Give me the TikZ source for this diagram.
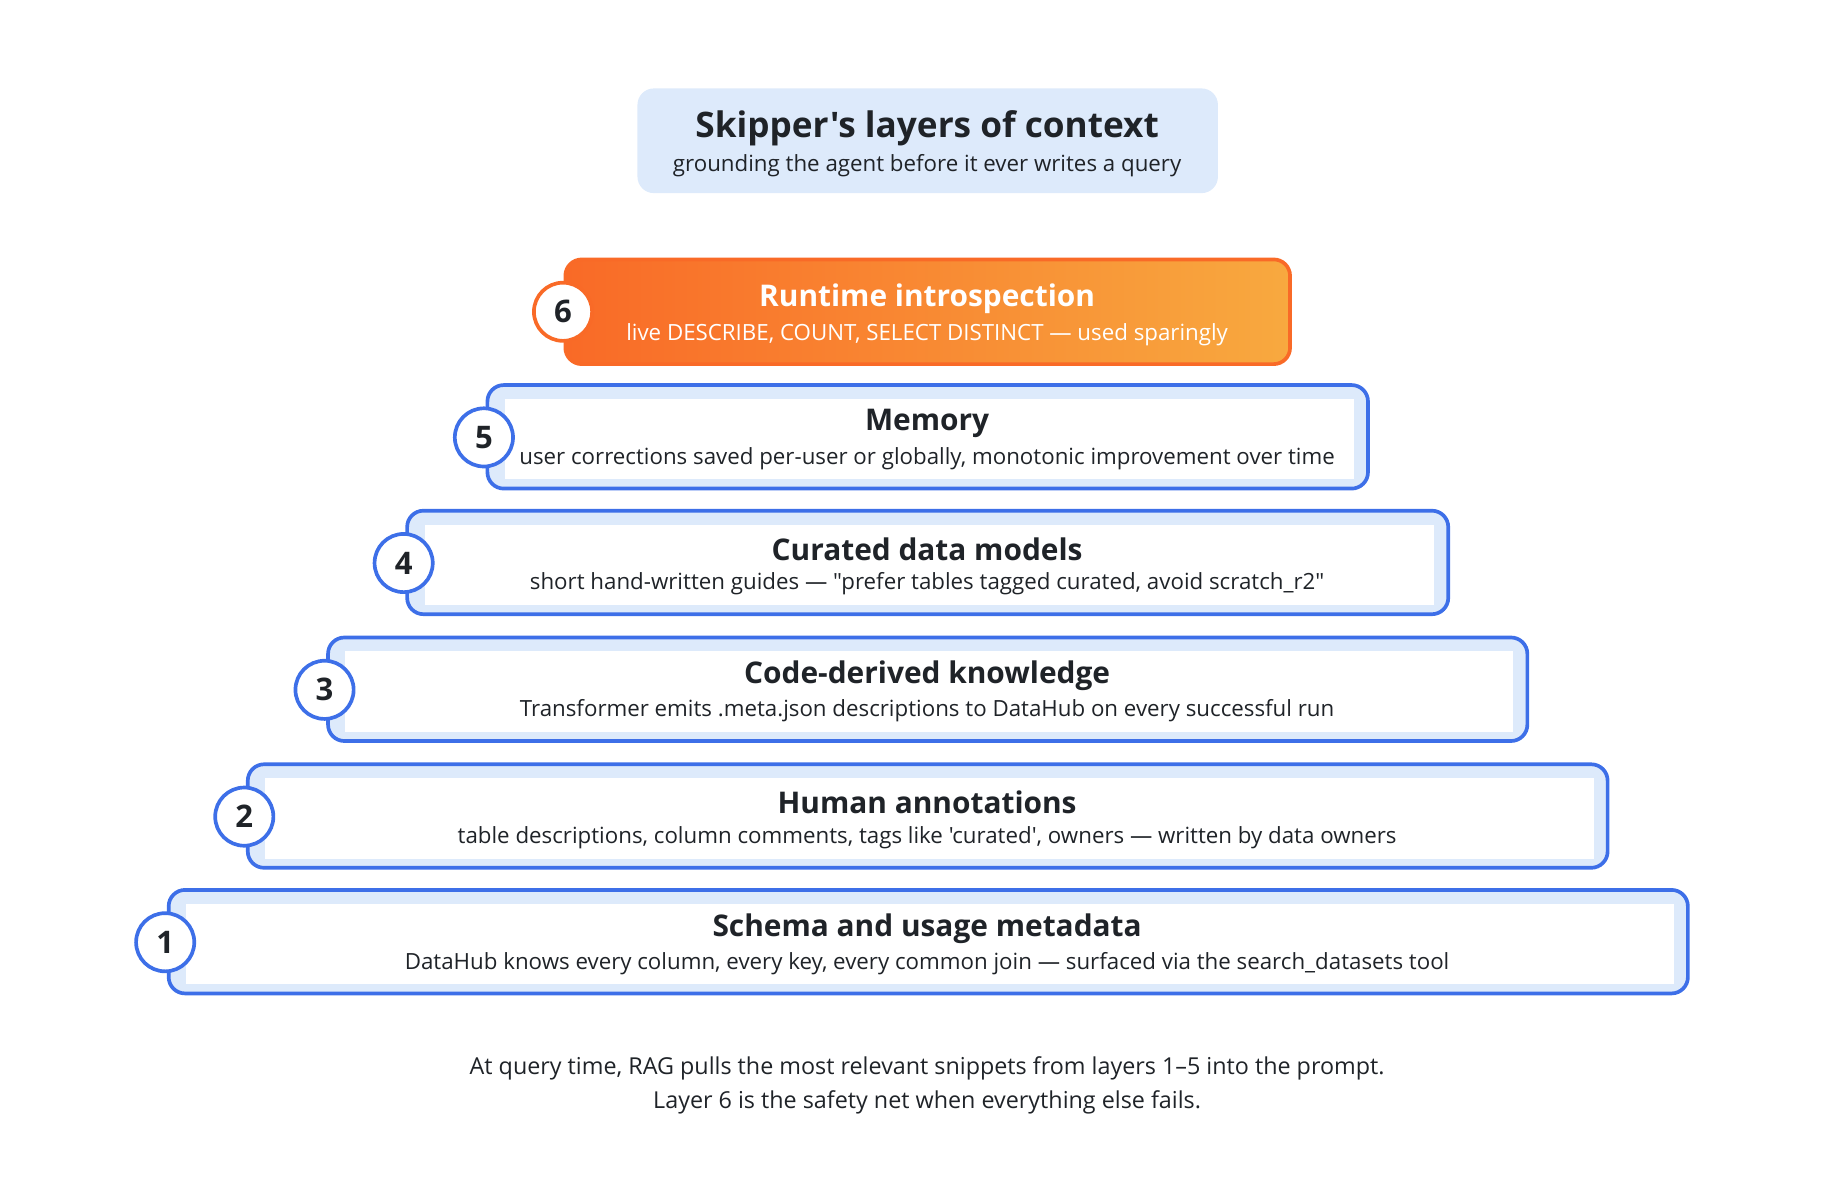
\documentclass[tikz,border=0pt]{standalone}
\usepackage{fontspec}
\defaultfontfeatures[\rmfamily]{}
\setmainfont{Open Sans}
\usetikzlibrary{positioning}
\definecolor{edge}{HTML}{3D6FE8}
\definecolor{pale}{HTML}{DDEAFB}
\definecolor{ink}{HTML}{1F2328}
\definecolor{hot}{HTML}{F96A27}
\definecolor{warm}{HTML}{F8A93F}
\begin{document}
\begin{tikzpicture}[x=0.01cm,y=-0.01cm,
  layer/.style={draw=edge, line width=0.9pt, fill=pale, rounded corners=4pt},
  inner/.style={fill=white},
  badge/.style={circle, draw=edge, line width=0.9pt, fill=white, minimum size=0.5cm, inner sep=0pt, font=\bfseries\fontsize{7.6}{8}\selectfont, text=ink},
  head/.style={font=\bfseries\fontsize{7.3}{8}\selectfont, text=ink},
  desc/.style={font=\fontsize{5.45}{6}\selectfont, text=ink}]
  \useasboundingbox (0,0) rectangle (1568,1035);
  % title
  \fill[pale, rounded corners=4pt] (548,76) rectangle (1047,166);
  \node[font=\bfseries\fontsize{8.6}{10}\selectfont, text=ink] (title) at (797,110) {Skipper's layers of context};
  \node[desc] (subtitle) at (797,142) {grounding the agent before it ever writes a query};
  % top layer
  \shade[left color=hot, right color=warm, rounded corners=4pt] (486,223) rectangle (1109,313);
  \draw[hot, line width=0.9pt, rounded corners=4pt] (486,223) rectangle (1109,313);
  \node[badge, draw=hot] (b6) at (484,268) {6};
  \node[head, text=white] (h6) at (797,257) {Runtime introspection};
  \node[desc, text=white] (d6) at (797,288) {live DESCRIBE, COUNT, SELECT DISTINCT — used sparingly};
  % blue layers
  \foreach \n/\l/\r/\t/\hd/\ds in {
    5/419/1176/331/Memory/{user corrections saved per-user or globally, monotonic improvement over time},
    4/350/1245/439/Curated data models/{short hand-written guides — "prefer tables tagged curated, avoid scratch\_r2"},
    3/282/1313/548/Code-derived knowledge/{Transformer emits .meta.json descriptions to DataHub on every successful run},
    2/213/1382/657/Human annotations/{table descriptions, column comments, tags like 'curated', owners — written by data owners},
    1/145/1451/765/Schema and usage metadata/{DataHub knows every column, every key, every common join — surfaced via the search\_datasets tool}}{
    \draw[layer] (\l,\t) rectangle (\r,\t+89);
    \fill[inner] (\l+15,\t+12) rectangle (\r-12,\t+81);
    \node[badge] (b\n) at (\l-3,\t+45) {\n};
    \node[head] (h\n) at (797,\t+33) {\hd};
    \node[desc] (d\n) at (797,\t+63) {\ds};
  }
  % footer
  \node[desc, font=\fontsize{5.7}{6}\selectfont] (note1) at (797,918) {At query time, RAG pulls the most relevant snippets from layers 1–5 into the prompt.};
  \node[desc, font=\fontsize{5.7}{6}\selectfont] (note2) at (797,948) {Layer 6 is the safety net when everything else fails.};
\end{tikzpicture}
\end{document}
